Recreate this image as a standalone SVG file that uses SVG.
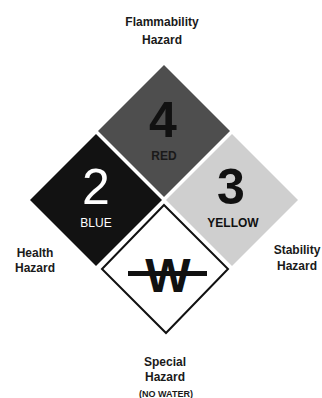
<svg xmlns="http://www.w3.org/2000/svg" width="322" height="398" viewBox="0 0 322 398">
<style>
.lbl{font-family:"Liberation Sans",Arial,sans-serif;font-size:12px;font-weight:bold;fill:#1a1a1a;text-anchor:middle}
.num{font-family:"Liberation Sans",Arial,sans-serif;font-size:50px;font-weight:bold;text-anchor:middle}
.col{font-family:"Liberation Sans",Arial,sans-serif;font-size:12px;font-weight:bold;text-anchor:middle}
</style>
<rect width="322" height="398" fill="#fff"/>
<g id="flammability">
<path d="M164 65 L230 131 L164 197 L98 131 Z" fill="#4e4e4e"/>
<text class="num" x="163" y="137" fill="#111">4</text>
<text class="col" x="164" y="160" fill="#1a1a1a">RED</text>
</g>
<g id="health">
<path d="M96 134 L162 200 L96 266 L30 200 Z" fill="#121212"/>
<text class="num" x="96" y="204" fill="#fff" style="font-weight:normal">2</text>
<text class="col" x="96" y="227" fill="#fff" style="font-weight:normal">BLUE</text>
</g>
<g id="stability">
<path d="M232 134 L298 200 L232 266 L166 200 Z" fill="#cfcfcf"/>
<text class="num" x="231" y="204" fill="#111">3</text>
<text class="col" x="233" y="227" fill="#111">YELLOW</text>
</g>
<g id="special">
<path d="M164 205 L228 269 L166 333 L102 269 Z" fill="#fff" stroke="#111" stroke-width="2"/>
<text class="num" x="168" y="292" fill="#111" style="font-size:48px">W</text>
<rect x="128" y="271" width="79" height="5" fill="#111"/>
</g>
<g id="labels">
<text class="lbl" x="162" y="26">Flammability</text>
<text class="lbl" x="162" y="44">Hazard</text>
<text class="lbl" x="35" y="257">Health</text>
<text class="lbl" x="35" y="272">Hazard</text>
<text class="lbl" x="297" y="254">Stability</text>
<text class="lbl" x="297" y="270">Hazard</text>
<text class="lbl" x="165" y="366">Special</text>
<text class="lbl" x="165" y="381">Hazard</text>
<text class="lbl" x="166" y="397" style="font-size:9px">(NO WATER)</text>
</g>
<g id="connectors"></g>
</svg>
